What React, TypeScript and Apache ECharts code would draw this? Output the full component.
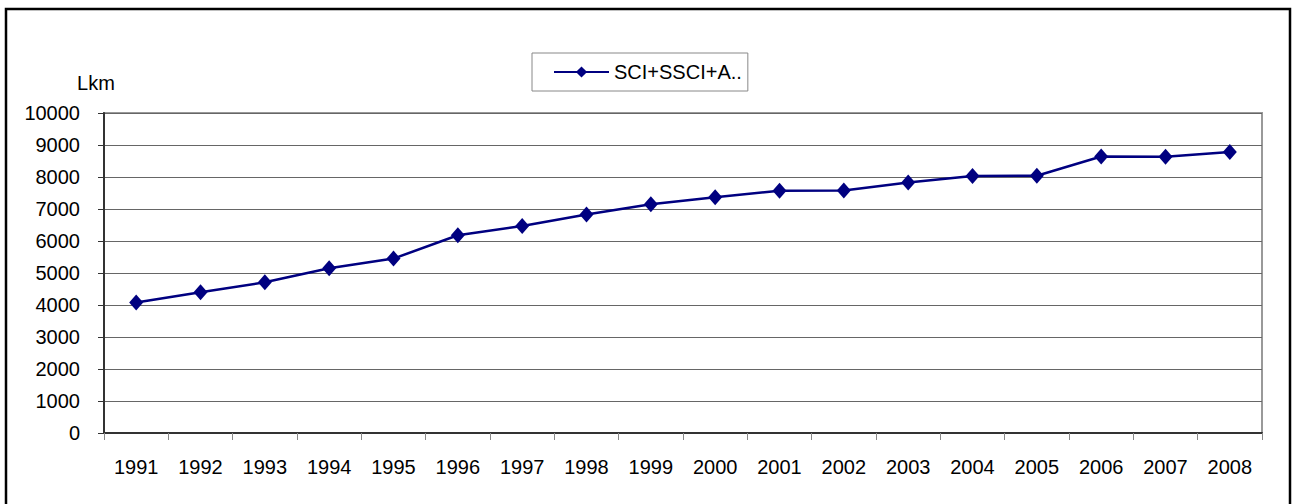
import React, { useEffect, useRef } from "react";
import * as echarts from "echarts";

const years = ["1991", "1992", "1993", "1994", "1995", "1996", "1997", "1998", "1999", "2000", "2001", "2002", "2003", "2004", "2005", "2006", "2007", "2008"];
const seriesName = "SCI+SSCI+A..";
const values = [4080, 4400, 4710, 5150, 5450, 6180, 6470, 6830, 7150, 7370, 7570, 7580, 7830, 8030, 8040, 8640, 8630, 8780];
const yMin = 0;
const yMax = 10000;
const yInterval = 1000;
const yUnit = "Lkm";

const FONT = "Arial, 'Liberation Sans', sans-serif";

export default function App() {
  const ref = useRef<HTMLDivElement>(null);
  useEffect(() => {
    if (!ref.current) return;
    const chart = echarts.init(ref.current, null, { renderer: "svg" });
    chart.setOption({
      animation: false,
      backgroundColor: "#fff",
      grid: {
        left: 104,
        top: 113,
        right: 31,
        bottom: 71,
        show: true,
        borderColor: "#999",
        borderWidth: 2,
        backgroundColor: "transparent",
      },
      legend: {
        left: 532,
        top: 53,
        padding: [9, 6, 9, 21],
        borderColor: "#888",
        borderWidth: 1,
        itemWidth: 55,
        itemHeight: 14,
        textStyle: { fontFamily: FONT, fontSize: 20, color: "#000" },
        data: [seriesName],
      },
      xAxis: {
        type: "category",
        data: years,
        boundaryGap: true,
        axisLine: { show: true, lineStyle: { color: "#333", width: 2 } },
        axisTick: { show: true, interval: 0, length: 7, lineStyle: { color: "#888" } },
        axisLabel: { interval: 0, margin: 24, fontFamily: FONT, fontSize: 20, color: "#000" },
        splitLine: { show: false },
      },
      yAxis: {
        type: "value",
        min: yMin,
        max: yMax,
        interval: yInterval,
        name: yUnit,
        nameLocation: "end",
        nameGap: 20,
        nameTextStyle: { fontFamily: FONT, fontSize: 20, fontWeight: "normal", color: "#000", align: "center", padding: [0, 16, 0, 0] },
        axisLine: { show: true, lineStyle: { color: "#333", width: 2 } },
        axisTick: { show: true, length: 6, lineStyle: { color: "#333" } },
        axisLabel: { margin: 24, fontFamily: FONT, fontSize: 20, color: "#000", formatter: (v: number) => String(v) },
        splitLine: { show: true, lineStyle: { color: "#666", width: 1 } },
      },
      series: [
        {
          name: seriesName,
          type: "line",
          data: values,
          symbol: "diamond",
          symbolSize: [14, 16],
          lineStyle: { color: "#000080", width: 2.5 },
          itemStyle: { color: "#000080" },
        },
      ],
      graphic: [
        {
          type: "rect",
          shape: { x: 6, y: 9, width: 1284, height: 510 },
          style: { fill: "none", stroke: "#000", lineWidth: 2.5 },
          silent: true,
        },
      ],
    });
    return () => chart.dispose();
  }, []);
  return (
    <div
      ref={ref}
      style={{ position: "absolute", left: 0, top: 0, width: 1293, height: 504 }}
    />
  );
}
